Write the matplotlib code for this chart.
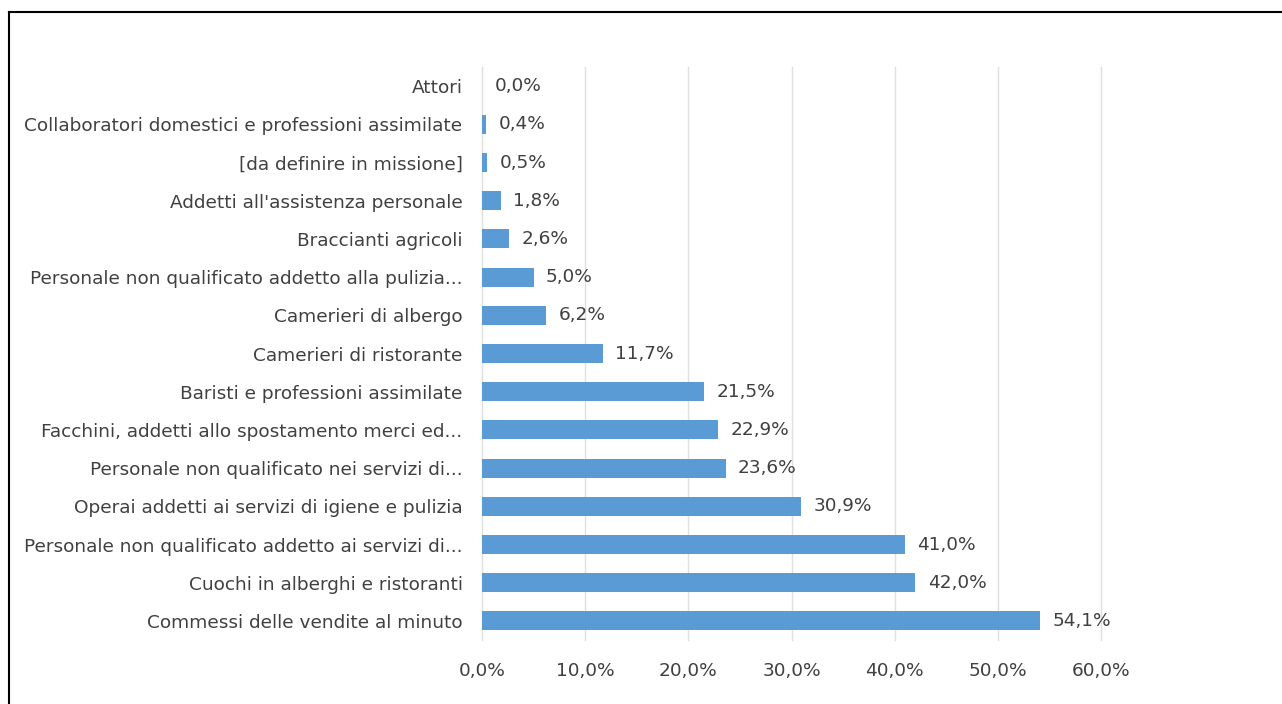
import matplotlib
matplotlib.use("Agg")
import matplotlib.pyplot as plt
from matplotlib.lines import Line2D

# === Dati ===
categorie = [
    "Attori",
    "Collaboratori domestici e professioni assimilate",
    "[da definire in missione]",
    "Addetti all'assistenza personale",
    "Braccianti agricoli",
    "Personale non qualificato addetto alla pulizia...",
    "Camerieri di albergo",
    "Camerieri di ristorante",
    "Baristi e professioni assimilate",
    "Facchini, addetti allo spostamento merci ed...",
    "Personale non qualificato nei servizi di...",
    "Operai addetti ai servizi di igiene e pulizia",
    "Personale non qualificato addetto ai servizi di...",
    "Cuochi in alberghi e ristoranti",
    "Commessi delle vendite al minuto",
]
valori = [0.0, 0.4, 0.5, 1.8, 2.6, 5.0, 6.2, 11.7, 21.5, 22.9, 23.6, 30.9, 41.0, 42.0, 54.1]
xticks = [0, 10, 20, 30, 40, 50, 60]

BAR = "#5B9BD5"
TXT = "#404040"
GRID = "#E0E0E0"
FS = 13.3

def pct(v):
    return f"{v:.1f}%".replace(".", ",")

plt.rcParams["font.family"] = ["DejaVu Sans"]

fig = plt.figure(figsize=(12.82, 7.04), dpi=100)
ax = fig.add_axes([0.376, 0.0909, 0.4829, 0.8139])

y = list(range(len(categorie)))
ax.barh(y, valori, height=0.5, color=BAR, zorder=2)
for yi, v in zip(y, valori):
    ax.text(v + 1.2, yi, pct(v), va="center", ha="left", fontsize=FS, color=TXT)

ax.set_xlim(0, 60)
ax.set_ylim(len(categorie) - 0.5, -0.5)
ax.set_yticks(y)
ax.set_yticklabels(categorie, fontsize=FS, color=TXT)
ax.set_xticks(xticks)
ax.set_xticklabels([pct(t) for t in xticks], fontsize=FS, color=TXT)
ax.tick_params(axis="both", length=0)
ax.tick_params(axis="y", pad=14)
ax.tick_params(axis="x", pad=16)
for t in xticks:
    ax.axvline(t, color=GRID, lw=1, zorder=0, clip_on=False)
for s in ax.spines.values():
    s.set_visible(False)

# cornice
fig.add_artist(Line2D([0.007, 1.0], [0.983, 0.983], color="black", lw=1.5))
fig.add_artist(Line2D([0.007, 0.007], [0.0, 0.983], color="black", lw=1.5))

fig.savefig("out.png", dpi=100, facecolor="white")
